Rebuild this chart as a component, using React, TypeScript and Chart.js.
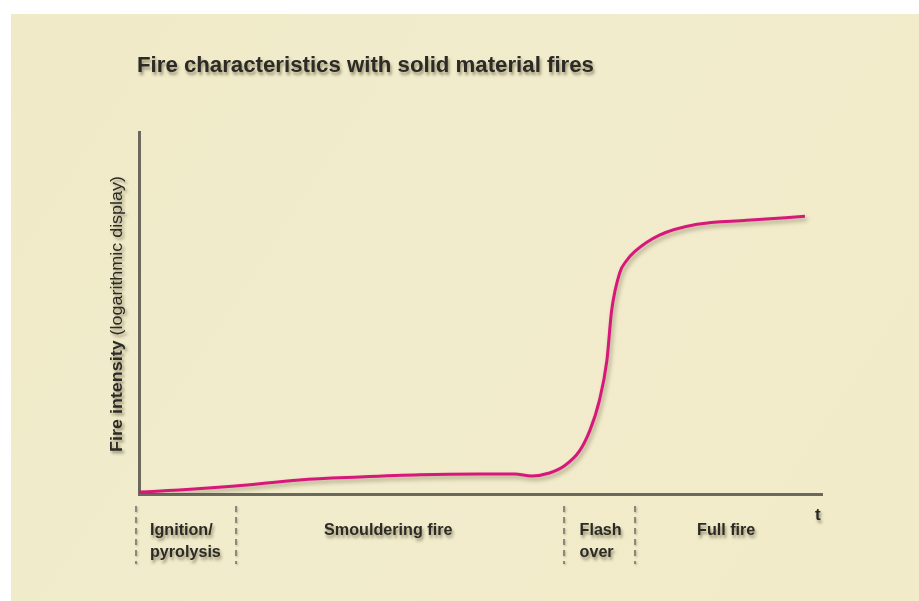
import React, { useEffect, useRef } from "react";
import { Chart, registerables } from "chart.js";

Chart.register(...registerables);

// ---- data ----
const chartTitle = "Fire characteristics with solid material fires";
const yTitleBold = "Fire intensity";
const yTitleRest = " (logarithmic display)";

const timeValues = [0, 5.9, 14.1, 23.5, 32.3, 41.1, 49.9, 55.0, 57.5, 60.1, 62.3, 64.5, 66.0, 67.4, 68.5, 69.2, 70.4, 71.4, 72.6, 76.2, 81.7, 89.0, 97.5];
const intensityValues = [0.55, 1.1, 2.2, 3.9, 4.7, 5.3, 5.5, 5.5, 5.0, 5.8, 7.8, 11.9, 17.5, 25.8, 36.8, 50.7, 61.2, 64.5, 67.0, 71.5, 74.5, 75.6, 76.7];

const phaseBoundaries = [-0.4, 14.2, 62.2, 72.6];
const phaseLabels = [["Ignition/", "pyrolysis"], ["Smouldering fire"], ["Flash", "over"], ["Full fire"]];
const phaseLabelStarts = [1.6, 27.1, 64.5, 81.7];
const axisEndLabel = "t";
const axisEndLabelPosition = 99.4;

const AXIS = "#6a695b";
const CURVE = "#D8177A";
const TEXT = "#2b2a25";
const FONT = "'Liberation Sans', Arial, sans-serif";

function setShadow(ctx: CanvasRenderingContext2D, blur = 3, ox = 1.5, oy = 2, alpha = 0.45) {
  ctx.shadowColor = `rgba(70,60,30,${alpha})`;
  ctx.shadowBlur = blur;
  ctx.shadowOffsetX = ox;
  ctx.shadowOffsetY = oy;
}

function drawText(ctx: CanvasRenderingContext2D, text: string, x: number, y: number, font: string, sx: number, align: "left" | "center") {
  ctx.save();
  ctx.font = font;
  ctx.translate(x, y);
  ctx.scale(sx, 1);
  ctx.textAlign = align;
  ctx.textBaseline = "alphabetic";
  ctx.fillText(text, 0, 0);
  ctx.restore();
}

const backdrop = {
  id: "backdrop",
  beforeDraw(chart: any) {
    const ctx = chart.ctx as CanvasRenderingContext2D;
    ctx.save();
    ctx.fillStyle = "#ffffff";
    ctx.fillRect(0, 0, chart.width, chart.height);
    const g = ctx.createLinearGradient(0, 0, chart.width, chart.height);
    g.addColorStop(0, "#F0EAC8");
    g.addColorStop(0.5, "#F1ECCC");
    g.addColorStop(1, "#F1EBC9");
    ctx.fillStyle = g;
    ctx.fillRect(11, 14, chart.width - 11, chart.height - 14);
    ctx.restore();
  },
};

const curveShadow = {
  id: "curveShadow",
  beforeDatasetsDraw(chart: any) {
    const ctx = chart.ctx as CanvasRenderingContext2D;
    ctx.save();
    setShadow(ctx, 4, 2, 3, 0.4);
  },
  afterDatasetsDraw(chart: any) {
    chart.ctx.restore();
  },
};

const decorations = {
  id: "decorations",
  afterDraw(chart: any) {
    const ctx = chart.ctx as CanvasRenderingContext2D;
    const xs = chart.scales.x;
    const area = chart.chartArea;
    ctx.save();
    ctx.fillStyle = TEXT;
    setShadow(ctx, 3, 1.5, 2.5, 0.5);

    // title
    drawText(ctx, chartTitle, 137, 72, `bold 22px ${FONT}`, 1.01, "left");

    // y-axis title (rotated)
    ctx.save();
    ctx.translate(118, 314);
    ctx.rotate(-Math.PI / 2);
    ctx.scale(1.12, 1);
    const fb = `bold 16px ${FONT}`;
    const fr = `16px ${FONT}`;
    ctx.font = fb;
    const wb = ctx.measureText(yTitleBold).width;
    ctx.font = fr;
    const wr = ctx.measureText(yTitleRest).width;
    const x0 = -(wb + wr) / 2;
    ctx.textBaseline = "middle";
    ctx.textAlign = "left";
    ctx.font = fb;
    ctx.fillText(yTitleBold, x0, 0);
    ctx.font = fr;
    ctx.fillText(yTitleRest, x0 + wb, 0);
    ctx.restore();

    // phase labels
    const lf = `bold 17px ${FONT}`;
    phaseLabels.forEach((lines, i) => {
      const px = xs.getPixelForValue(phaseLabelStarts[i]);
      lines.forEach((ln, j) => {
        drawText(ctx, ln, px, area.bottom + 41 + j * 22, lf, 0.95, "left");
      });
    });
    drawText(ctx, axisEndLabel, xs.getPixelForValue(axisEndLabelPosition), area.bottom + 26, lf, 1, "center");

    // dashed boundaries
    ctx.strokeStyle = "#8c897c";
    ctx.lineWidth = 2;
    ctx.setLineDash([6, 5]);
    setShadow(ctx, 2, 1, 1, 0.3);
    phaseBoundaries.forEach((b) => {
      const px = Math.round(xs.getPixelForValue(b));
      ctx.beginPath();
      ctx.moveTo(px, area.bottom + 12);
      ctx.lineTo(px, area.bottom + 70);
      ctx.stroke();
    });
    ctx.restore();
  },
};

export default function App() {
  const ref = useRef<HTMLCanvasElement | null>(null);
  useEffect(() => {
    if (!ref.current) return;
    const chart = new Chart(ref.current, {
      type: "line",
      data: {
        datasets: [
          {
            data: timeValues.map((t, i) => ({ x: t, y: intensityValues[i] })),
            borderColor: CURVE,
            borderWidth: 3,
            pointRadius: 0,
            cubicInterpolationMode: "monotone",
            fill: false,
          },
        ],
      },
      options: {
        animation: false,
        responsive: false,
        devicePixelRatio: 1,
        layout: { padding: { left: 139, right: 97, top: 132, bottom: 107 } },
        plugins: { legend: { display: false }, title: { display: false }, tooltip: { enabled: false } },
        scales: {
          x: {
            type: "linear",
            min: 0,
            max: 100,
            ticks: { display: false },
            grid: { display: false, drawTicks: false },
            border: { display: true, color: AXIS, width: 3 },
          },
          y: {
            type: "linear",
            min: 0,
            max: 100,
            ticks: { display: false },
            grid: { display: false, drawTicks: false },
            border: { display: true, color: AXIS, width: 3 },
          },
        },
      },
      plugins: [backdrop, curveShadow, decorations],
    });
    return () => chart.destroy();
  }, []);
  return (
    <div style={{ position: "fixed", left: 0, top: 0, width: 919, height: 601 }}>
      <canvas ref={ref} width={919} height={601} style={{ width: 919, height: 601, display: "block" }} />
    </div>
  );
}
